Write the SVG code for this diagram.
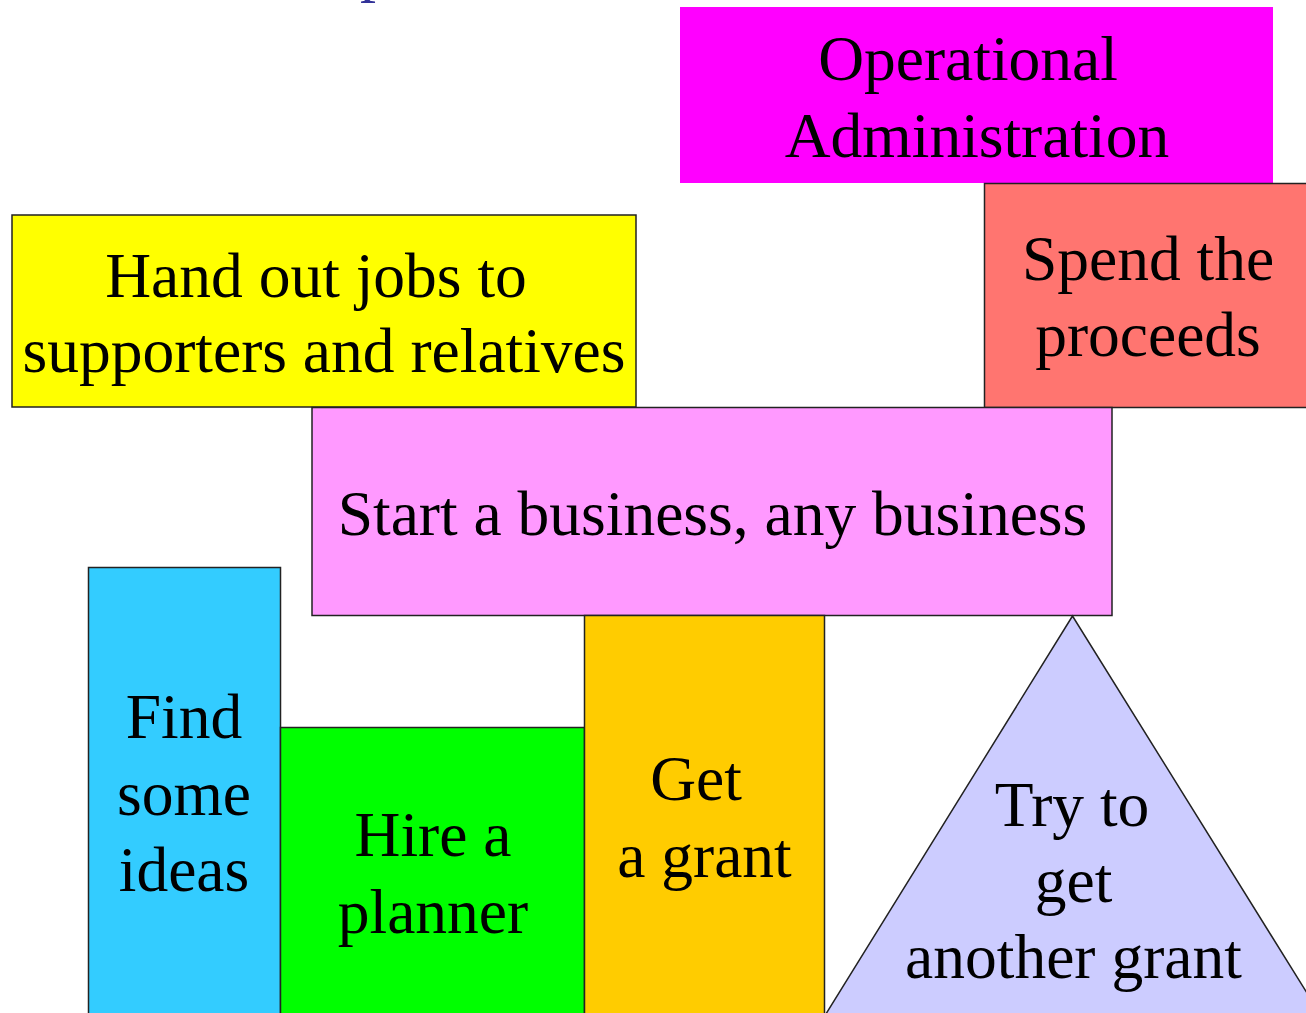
<svg xmlns="http://www.w3.org/2000/svg" width="1306" height="1013" viewBox="0 0 1306 1013">
<style>
.box{stroke:#222;stroke-width:1.5}
.t{font-family:"Liberation Serif","Times New Roman",serif;font-size:63.5px;fill:#000;text-anchor:middle}
</style>
<rect width="1306" height="1013" fill="#fff"/>
<text x="360" y="-11" style="font-family:'Liberation Serif',serif;font-size:64px;fill:#333399">p</text>
<g id="connectors"></g>
<g id="operational">
<rect x="680" y="7" width="593" height="176" fill="#ff00ff"/>
<text class="t" x="968" y="80">Operational</text>
<text class="t" x="977" y="156.5">Administration</text>
</g>
<g id="spend">
<rect class="box" x="984.5" y="183.5" width="330" height="224" fill="#ff7570"/>
<text class="t" x="1148" y="279.5">Spend the</text>
<text class="t" x="1148" y="356">proceeds</text>
</g>
<g id="handout">
<rect class="box" x="12" y="215" width="624" height="192" fill="#ffff00"/>
<text class="t" x="316" y="297">Hand out jobs to</text>
<text class="t" x="324" y="372">supporters and relatives</text>
</g>
<g id="start">
<rect class="box" x="312" y="407.5" width="800" height="208" fill="#ff99ff"/>
<text class="t" x="712.5" y="535">Start a business, any business</text>
</g>
<g id="find">
<rect class="box" x="88.5" y="567.5" width="192" height="460" fill="#33ccff"/>
<text class="t" x="184" y="738">Find</text>
<text class="t" x="184" y="815">some</text>
<text class="t" x="184" y="891">ideas</text>
</g>
<g id="hire">
<rect class="box" x="280.5" y="727.5" width="304" height="300" fill="#00ff00"/>
<text class="t" x="433" y="856">Hire a</text>
<text class="t" x="433" y="933">planner</text>
</g>
<g id="grant">
<rect class="box" x="584.5" y="615.5" width="240" height="412" fill="#ffcc00"/>
<text class="t" x="696" y="800">Get</text>
<text class="t" x="704.5" y="877">a grant</text>
</g>
<g id="another">
<polygon class="box" points="1072.5,616 816,1030 1330,1030" fill="#ccccff"/>
<text class="t" x="1072" y="826">Try to</text>
<text class="t" x="1073.5" y="902">get</text>
<text class="t" x="1073.5" y="978">another grant</text>
</g>
</svg>
